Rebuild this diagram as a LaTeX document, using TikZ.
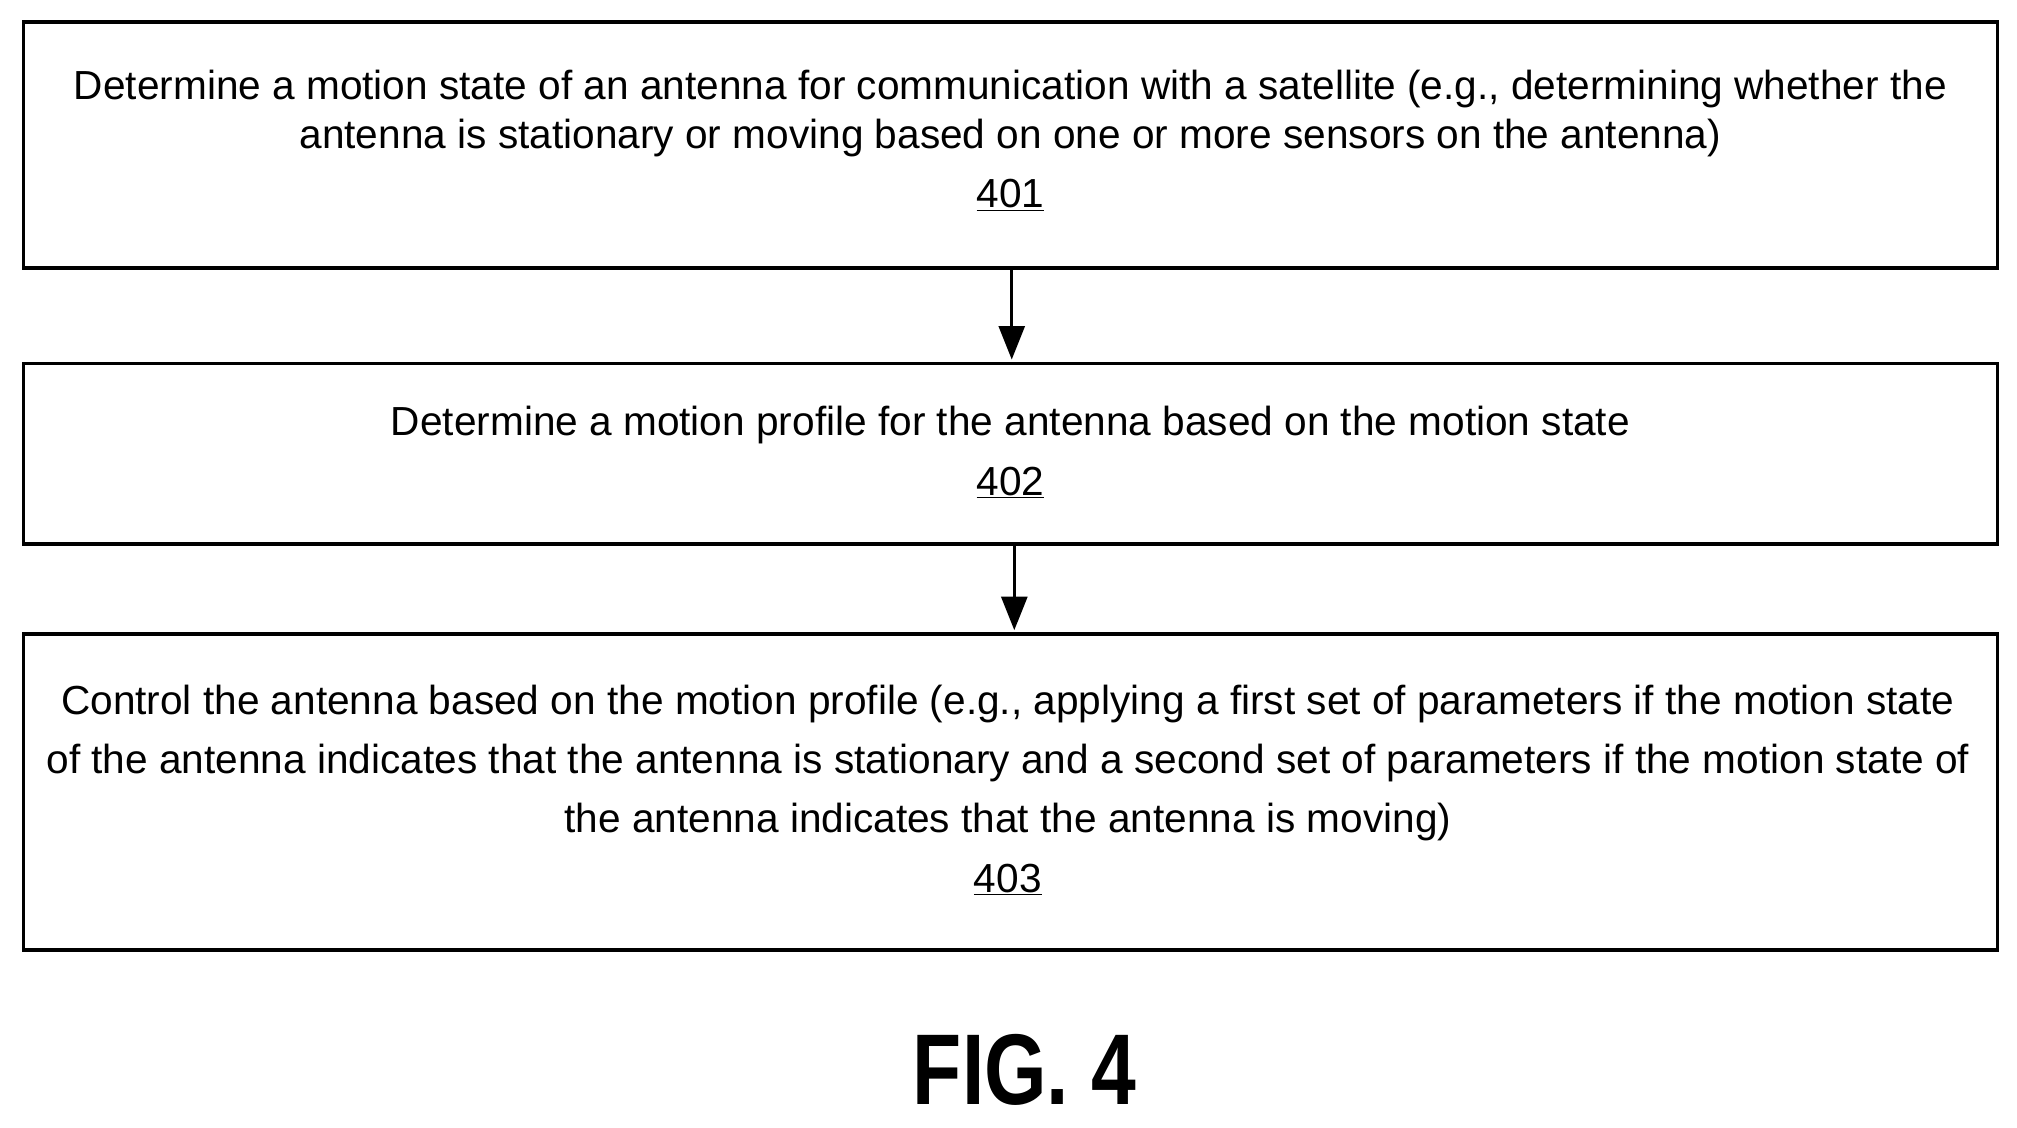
\documentclass[tikz,border=0pt]{standalone}
\usepackage{fontspec}
\setmainfont{Liberation Sans}
\newfontfamily\figfont{Liberation Sans}[FakeStretch=0.8]
\usetikzlibrary{arrows.meta}
\begin{document}
\begin{tikzpicture}[x=1pt,y=-1pt,
  stepbox/.style={draw,line width=2.6pt},
  txt/.style={align=center,font=\fontsize{31.5}{46}\selectfont,inner sep=0},
  arr/.style={line width=2.6pt,-{Triangle[length=26pt,width=20pt]}}]
\useasboundingbox (0,0) rectangle (1565,875);
\draw[stepbox] (18,17) rectangle (1550,208);
\draw[stepbox] (18,282) rectangle (1550,422);
\draw[stepbox] (18,492) rectangle (1550,737);
\node[txt] (t1) at (784,109) {Determine a motion state of an antenna for communication with a satellite (e.g., determining whether the\\[-8pt] antenna is stationary or moving based on one or more sensors on the antenna)\\ \underline{401}};
\node[txt] (t2) at (784,351) {Determine a motion profile for the antenna based on the motion state\\ \underline{402}};
\node[txt] (t3) at (782,613) {Control the antenna based on the motion profile (e.g., applying a first set of parameters if the motion state\\ of the antenna indicates that the antenna is stationary and a second set of parameters if the motion state of\\ the antenna indicates that the antenna is moving)\\ \underline{403}};
\coordinate (a1) at (785,208); \coordinate (b1) at (785,279);
\coordinate (a2) at (787,422); \coordinate (b2) at (787,489);
\draw[arr] (a1) -- (b1);
\draw[arr] (a2) -- (b2);
\node[font=\figfont\bfseries\fontsize{78}{80}\selectfont] (fig) at (795,830) {FIG. 4};
\end{tikzpicture}
\end{document}
